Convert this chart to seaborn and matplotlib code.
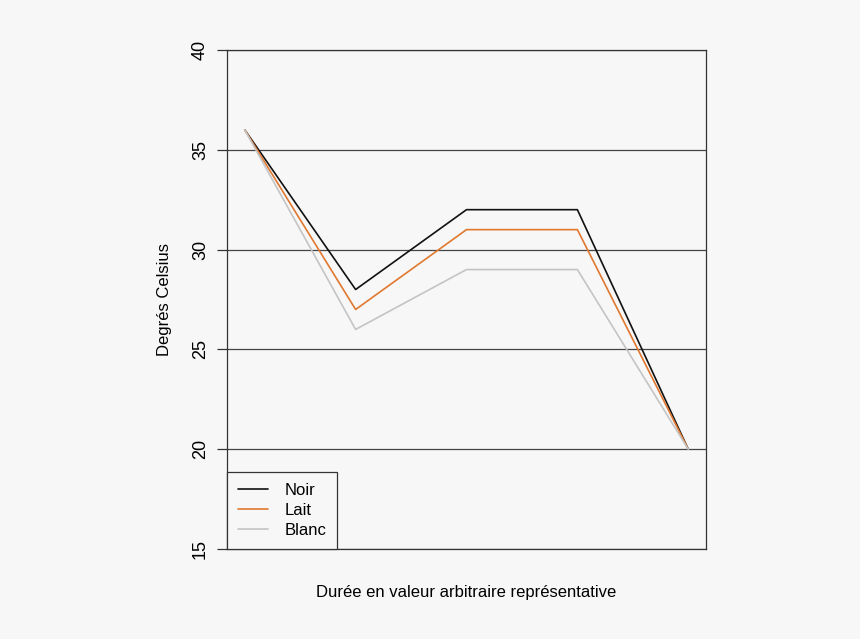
import pandas as pd
import matplotlib
matplotlib.use("Agg")
import matplotlib.pyplot as plt
import seaborn as sns

# data
temps = [1, 2, 3, 4, 5]
noir = [36, 28, 32, 32, 20]
lait = [36, 27, 31, 31, 20]
blanc = [36, 26, 29, 29, 20]
series = ["Noir", "Lait", "Blanc"]
colors = {"Noir": "#111111", "Lait": "#e0782f", "Blanc": "#c4c4c4"}

df = pd.DataFrame({
    "temps": temps * 3,
    "degres": noir + lait + blanc,
    "type": ["Noir"] * 5 + ["Lait"] * 5 + ["Blanc"] * 5,
})

sns.set_style("white")
plt.rcParams["font.family"] = ["Liberation Sans", "DejaVu Sans"]
plt.rcParams["text.color"] = "black"
bg = "#f7f7f7"

fig = plt.figure(figsize=(8.6, 6.39), dpi=100, facecolor=bg)
ax = fig.add_axes([227 / 860, 90 / 639, 479 / 860, 499 / 639])
ax.set_facecolor(bg)

sns.lineplot(data=df, x="temps", y="degres", hue="type", hue_order=series,
             palette=colors, linewidth=1.2, ax=ax, legend=False)

ax.set_xlim(0.84, 5.16)
ax.set_ylim(15, 40)
ax.set_yticks([15, 20, 25, 30, 35, 40])
ax.set_xticks([])
ax.yaxis.grid(True, color="#444444", linewidth=0.9)
ax.set_axisbelow(True)
for s in ax.spines.values():
    s.set_color("#333333")
    s.set_linewidth(0.9)
ax.tick_params(axis="y", direction="out", length=7, width=0.9, color="#333333",
               labelsize=13, labelcolor="black", pad=6, left=True)
for lab in ax.get_yticklabels():
    lab.set_rotation(90)
    lab.set_va("center")

ax.set_ylabel("Degrés Celsius", fontsize=12, labelpad=14, color="black")
ax.set_xlabel("Durée en valeur arbitraire représentative", fontsize=12,
              labelpad=26, color="black")

handles = [plt.Line2D([], [], color=colors[s], linewidth=1.2) for s in series]
leg = ax.legend(handles, series, loc="lower left", borderaxespad=0, fontsize=12,
                frameon=True, fancybox=False, handlelength=1.8, handletextpad=1.0,
                borderpad=0.65, labelspacing=0.3, facecolor=bg)
leg.get_frame().set_edgecolor("#333333")
leg.get_frame().set_linewidth(0.9)
leg.get_frame().set_alpha(None)

fig.savefig("out.png", dpi=100, facecolor=bg)
